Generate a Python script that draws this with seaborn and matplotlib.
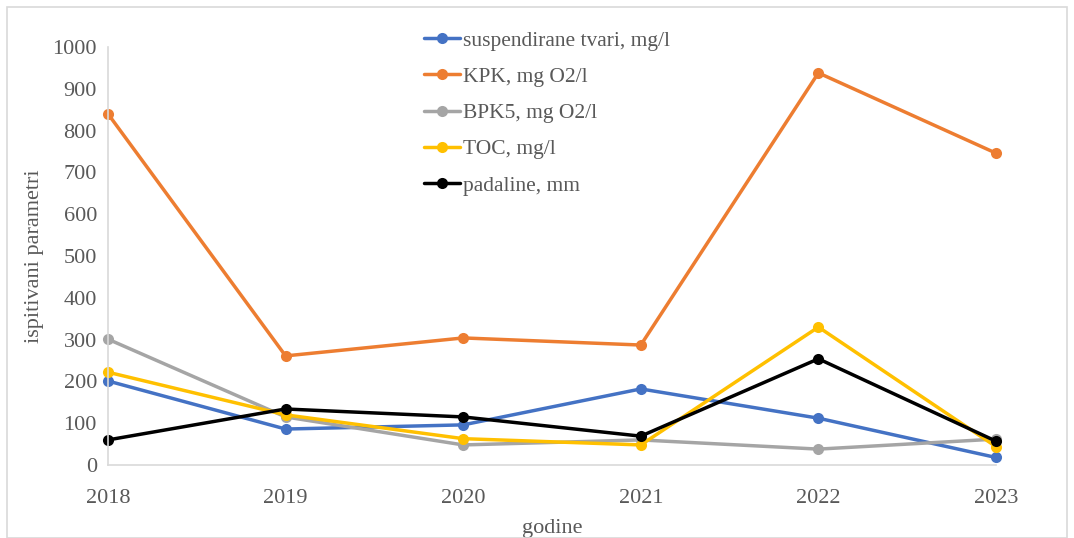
import numpy as np
import pandas as pd
import matplotlib.pyplot as plt
import seaborn as sns
from matplotlib.patches import Rectangle

years = [2018, 2019, 2020, 2021, 2022, 2023]
suspendirane = [201, 86, 96, 182, 112, 18]
kpk = [840, 261, 304, 287, 938, 746]
bpk5 = [301, 115, 48, 60, 38, 62]
toc = [222, 120, 63, 48, 330, 44]
padaline = [60, 134, 115, 69, 254, 57]

series_names = ["suspendirane tvari, mg/l", "KPK, mg O2/l", "BPK5, mg O2/l",
                "TOC, mg/l", "padaline, mm"]
colors = ["#4472C4", "#ED7D31", "#A5A5A5", "#FFC000", "#000000"]

df = pd.DataFrame({
    "godina": years * 5,
    "vrijednost": suspendirane + kpk + bpk5 + toc + padaline,
    "serija": np.repeat(series_names, len(years)),
})

sns.set_style("white")
plt.rcParams["font.family"] = ["Liberation Serif", "DejaVu Serif"]

fig = plt.figure(figsize=(10.74, 5.38), dpi=100)
ax = fig.add_axes([108 / 1074, 1 - 465 / 538, 888 / 1074, 418 / 538])

sns.lineplot(data=df, x="godina", y="vrijednost", hue="serija",
             hue_order=series_names, palette=colors, marker="o",
             markersize=8, markeredgewidth=0, linewidth=2.5, ax=ax)

ax.set_xlim(2018, 2023)
ax.set_ylim(0, 1000)
ax.set_yticks(range(0, 1001, 100))
ax.set_xticks(years)
ax.tick_params(axis="both", labelsize=16, labelcolor="#595959", length=0)
ax.tick_params(axis="x", pad=17)
ax.tick_params(axis="y", pad=8)
ax.set_xlabel("godine", fontsize=16, color="#595959", labelpad=8)
ax.set_ylabel("ispitivani parametri", fontsize=16, color="#595959", labelpad=6)

for s in ["top", "right"]:
    ax.spines[s].set_visible(False)
for s in ["left", "bottom"]:
    ax.spines[s].set_color("#d9d9d9")
    ax.spines[s].set_linewidth(1.2)

for line in ax.lines:
    line.set_clip_on(False)

leg = ax.legend(loc="upper left", bbox_to_anchor=(415 / 1074, 1 - 22 / 538),
                bbox_transform=fig.transFigure, frameon=False, fontsize=15.5,
                handlelength=1.7, handletextpad=0.15, labelspacing=0.75,
                borderaxespad=0)
for t in leg.get_texts():
    t.set_color("#595959")

fig.patches.append(Rectangle((7 / 1074, 0.0), 1 - 14 / 1074, 1 - 7 / 538,
                             transform=fig.transFigure, fill=False,
                             edgecolor="#d9d9d9", linewidth=1.2))

plt.savefig("out.png", dpi=100)
